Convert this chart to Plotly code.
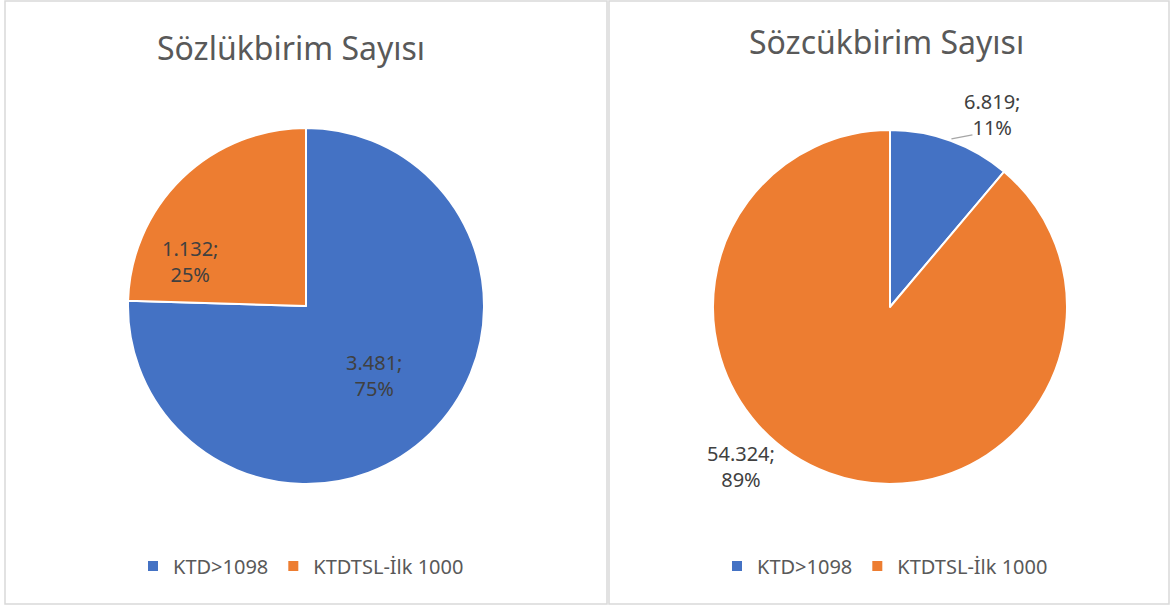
import math
import plotly.graph_objects as go

# ---- data ----
labels = ["KTD>1098", "KTDTSL-İlk 1000"]
left_title = "Sözlükbirim Sayısı"
left_values = [3481, 1132]
left_value_text = ["3.481", "1.132"]
right_title = "Sözcükbirim Sayısı"
right_values = [6819, 54324]
right_value_text = ["6.819", "54.324"]

# ---- style ----
W, H = 1172, 610
colors = ["#4472C4", "#ED7D31"]
FONT = "Noto Sans"
TITLE_C = "#595959"
LABEL_C = "#404040"


def px(x):
    return x / W


def py(y):
    return 1 - y / H


# pie geometry in pixels: center and radius
left_geo = dict(cx=306, cy=306, r=178)
right_geo = dict(cx=890, cy=307, r=177)

# label placement (angle shift in degrees, radial factor) per slice
left_label_pos = [(0, 0.545), (-25, 0.70)]
right_label_pos = [(8, 1.23), (23, 1.23)]

fig = go.Figure()


def add_pie(lbls, values, geo, legend_name):
    cx, cy, r = geo["cx"], geo["cy"], geo["r"]
    fig.add_trace(go.Pie(
        labels=lbls, values=values, sort=False, direction="clockwise",
        rotation=0, textinfo="none", hoverinfo="label+value+percent",
        marker=dict(colors=colors, line=dict(color="white", width=2)),
        domain=dict(x=[px(cx - r), px(cx + r)], y=[py(cy + r), py(cy - r)]),
        legend=legend_name, showlegend=True,
    ))


def mid_angles(values):
    total = sum(values)
    out, acc = [], 0
    for v in values:
        out.append((acc + v / 2) / total * 360)
        acc += v
    return out


def add_labels(values, texts, geo, pos, leader=None):
    cx, cy, r = geo["cx"], geo["cy"], geo["r"]
    total = sum(values)
    mids = mid_angles(values)
    for i, (v, t) in enumerate(zip(values, texts)):
        mid = mids[i]
        shift, fac = pos[i]
        th = math.radians(mid + shift)
        x = cx + fac * r * math.sin(th)
        y = cy - fac * r * math.cos(th)
        pct = round(v / total * 100)
        fig.add_annotation(
            x=px(x), y=py(y), xref="paper", yref="paper", showarrow=False,
            xanchor="center", yanchor="middle",
            text=f"{t};<br>{pct}%", align="center",
            font=dict(family=FONT, size=20, color=LABEL_C),
        )
        if leader is not None and leader == i:
            thm = math.radians(mid)
            x0 = cx + (r + 2) * math.sin(thm)
            y0 = cy - (r + 2) * math.cos(thm)
            fig.add_shape(type="line", xref="paper", yref="paper",
                          x0=px(x0), y0=py(y0), x1=px(x0 + 21), y1=py(y0 - 4),
                          line=dict(color="#A6A6A6", width=1.5))


# right pie uses an invisible suffix so its legend entries are separate
right_labels = [l + "\u200b" for l in labels]

add_pie(labels, left_values, left_geo, "legend")
add_pie(right_labels, right_values, right_geo, "legend2")
add_labels(left_values, left_value_text, left_geo, left_label_pos)
add_labels(right_values, right_value_text, right_geo, right_label_pos, leader=0)

# titles
fig.add_annotation(x=px(291), y=py(47), xref="paper", yref="paper", showarrow=False,
                   xanchor="center", yanchor="middle",
                   text=left_title, font=dict(family=FONT, size=32, color=TITLE_C))
fig.add_annotation(x=px(886), y=py(41), xref="paper", yref="paper", showarrow=False,
                   xanchor="center", yanchor="middle",
                   text=right_title, font=dict(family=FONT, size=32, color=TITLE_C))

# panel borders
for x0, x1 in [(5, 607), (609, 1169)]:
    fig.add_shape(type="rect", xref="paper", yref="paper",
                  x0=px(x0), x1=px(x1), y0=py(604), y1=py(1),
                  line=dict(color="#D9D9D9", width=1.5), fillcolor="rgba(0,0,0,0)")

legend_style = dict(orientation="h", xanchor="left", yanchor="middle",
                    font=dict(family=FONT, size=20, color=TITLE_C),
                    bgcolor="rgba(0,0,0,0)", itemwidth=30, traceorder="normal")

fig.update_layout(
    width=W, height=H, margin=dict(l=0, r=0, t=0, b=0),
    paper_bgcolor="white", plot_bgcolor="white",
    legend=dict(x=px(133), y=py(566), **legend_style),
    legend2=dict(x=px(717), y=py(566), **legend_style),
)

fig.write_html("out.html", config={"displayModeBar": False},
               post_script="document.body.style.margin='0px';document.body.style.overflow='hidden';")
